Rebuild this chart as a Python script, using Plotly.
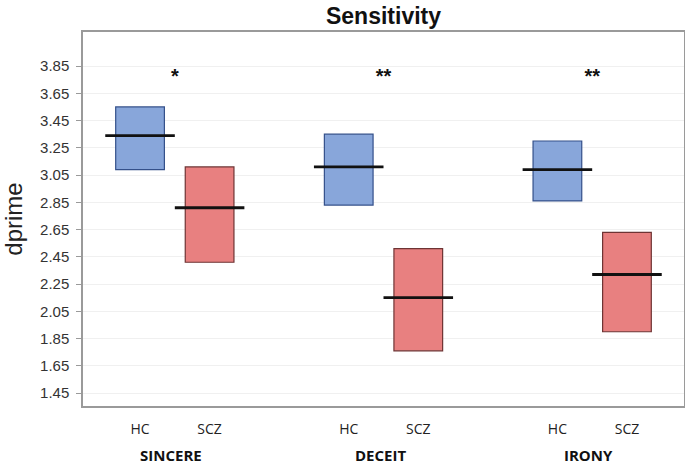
import plotly.graph_objects as go

# values (dprime)
conditions = ["SINCERE", "DECEIT", "IRONY"]
groups = ["HC", "SCZ"]
hc_low = [3.09, 2.83, 2.86]
hc_high = [3.55, 3.35, 3.30]
hc_mean = [3.34, 3.11, 3.09]
scz_low = [2.41, 1.76, 1.90]
scz_high = [3.11, 2.51, 2.63]
scz_mean = [2.81, 2.15, 2.32]
signif = ["*", "**", "**"]
y_ticks = [1.45, 1.65, 1.85, 2.05, 2.25, 2.45, 2.65, 2.85, 3.05, 3.25, 3.45, 3.65, 3.85]

# x slots: HC, SCZ, gap, per condition
hc_x = [3 * i + 1 for i in range(len(conditions))]
scz_x = [3 * i + 2 for i in range(len(conditions))]
mid_x = [3 * i + 1.5 for i in range(len(conditions))]

BLUE = "#88a6da"
BLUE_EDGE = "#34508a"
RED = "#e88080"
RED_EDGE = "#6e3434"

fig = go.Figure()

fig.add_trace(go.Bar(
    x=hc_x, base=hc_low, y=[h - l for h, l in zip(hc_high, hc_low)],
    width=0.7, marker=dict(color=BLUE, line=dict(color=BLUE_EDGE, width=1.2)),
    hoverinfo="skip", showlegend=False,
))
fig.add_trace(go.Bar(
    x=scz_x, base=scz_low, y=[h - l for h, l in zip(scz_high, scz_low)],
    width=0.7, marker=dict(color=RED, line=dict(color=RED_EDGE, width=1.2)),
    hoverinfo="skip", showlegend=False,
))

# mean lines
lx, ly = [], []
for xs, ms in ((hc_x, hc_mean), (scz_x, scz_mean)):
    for x, m in zip(xs, ms):
        lx += [x - 0.5, x + 0.5, None]
        ly += [m, m, None]
fig.add_trace(go.Scatter(x=lx, y=ly, mode="lines",
                         line=dict(color="#111111", width=2.8),
                         hoverinfo="skip", showlegend=False))

# significance stars
fig.add_trace(go.Scatter(x=mid_x, y=[3.765] * len(mid_x), mode="text", text=["<b>%s</b>" % s for s in signif],
                         textfont=dict(family="Liberation Sans", size=20, color="#111111"),
                         hoverinfo="skip", showlegend=False))

# condition labels under the group ticks
for x, c in zip(mid_x, conditions):
    fig.add_annotation(x=x - 0.05, y=0, xref="x", yref="paper", yanchor="middle", yshift=-49,
                       text="<b>%s</b>" % c, showarrow=False,
                       font=dict(family="Open Sans", size=15, color="#111111"))

fig.update_layout(
    width=685, height=465,
    margin=dict(l=83, r=1, t=32, b=59),
    paper_bgcolor="white", plot_bgcolor="white",
    barmode="overlay",
    title=dict(text="<b>Sensitivity</b>", xref="paper", x=0.5, xanchor="center",
               y=0.965, yanchor="middle",
               font=dict(family="Liberation Sans", size=23, color="#111111")),
    xaxis=dict(
        range=[0.18, 8.82],
        tickvals=hc_x + scz_x,
        ticktext=[groups[0]] * len(hc_x) + [groups[1]] * len(scz_x),
        tickfont=dict(family="Open Sans", size=14, color="#222222"),
        showgrid=False, zeroline=False, ticks="", ticklabelstandoff=9,
        showline=True, linecolor="#9a9a9a", linewidth=1.5, mirror=True,
        automargin=False,
    ),
    yaxis=dict(
        range=[1.355, 4.10],
        tickvals=y_ticks,
        ticktext=["%.2f" % v for v in y_ticks],
        tickfont=dict(family="Liberation Sans", size=15, color="#333333"),
        showgrid=True, gridcolor="#f0f0f0", gridwidth=1, zeroline=False,
        ticks="outside", ticklen=5, tickcolor="#9a9a9a", ticklabelstandoff=4,
        showline=True, linecolor="#9a9a9a", linewidth=1.5, mirror=True,
        automargin=False,
        title=dict(text="dprime", standoff=14,
                   font=dict(family="Liberation Sans", size=24, color="#222222")),
    ),
)

# page has the browser's default body margin; drop it so the figure fills the window
fig.write_html("out.html", config={"displayModeBar": False},
               post_script="document.body.style.margin = '0';")
